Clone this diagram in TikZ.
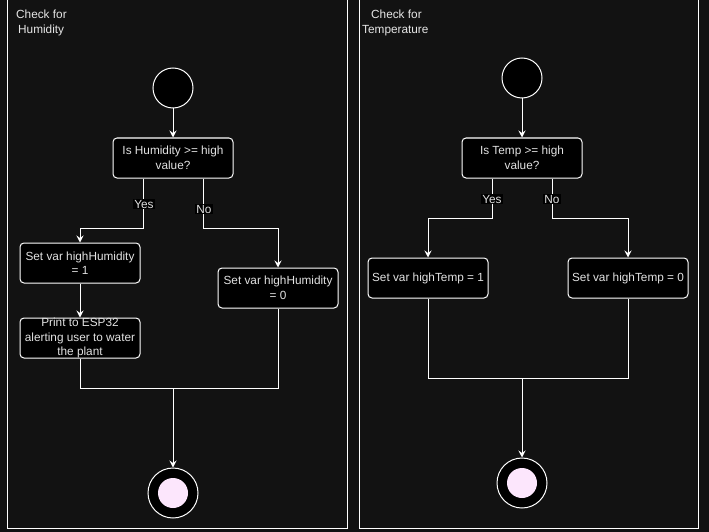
\documentclass[tikz,border=0pt]{standalone}
\usepackage{fontspec}
\setmainfont{Liberation Sans}
\usepackage{tikz}
\usetikzlibrary{arrows.meta, positioning}

\definecolor{bgdark}{RGB}{18,18,18}
\definecolor{txtgray}{RGB}{226,226,226}
\definecolor{endpink}{RGB}{252,230,252}

\begin{document}
\begin{tikzpicture}[
    x=1pt, y=-1pt,
    every node/.style={font=\fontsize{11.8}{14.5}\selectfont, text=txtgray},
    panel/.style={draw=white, line width=1pt},
    startdot/.style={circle, draw=white, fill=black, line width=1pt, minimum size=40pt, inner sep=0pt},
    enddot/.style={circle, draw=white, fill=black, line width=1pt, minimum size=50pt, inner sep=0pt},
    enddisc/.style={circle, fill=endpink, minimum size=30pt, inner sep=0pt},
    box/.style={draw=white, fill=black, rounded corners=4pt, line width=1pt,
        minimum width=120pt, minimum height=40pt, align=center, inner sep=0pt},
    lbl/.style={fill=black, inner sep=1pt},
    title/.style={align=left, inner sep=0pt, text=txtgray!85},
    arr/.style={draw=white, line width=1pt, -{Stealth[length=7pt, width=7pt, inset=2.5pt]}},
    ln/.style={draw=white, line width=1pt}
]

% Background
\fill[bgdark] (0,0) rectangle (709,532);
\useasboundingbox (0,0) rectangle (709,532);

% Panels
\draw[panel] (7,-2) -- (7,528) -- (347,528) -- (347,-2);
\draw[panel] (359,-2) -- (359,528) -- (698,528) -- (698,-2);

% Humidity column
\node[title, anchor=north west] (htitle) at (16,10) {Check for\\\hspace{2pt}Humidity};
\node[startdot] (hstart) at (173,88) {};
\node[box] (hdec) at (173,158) {Is Humidity >= high\\value?};
\node[box] (hset1) at (80,263) {Set var highHumidity\\= 1};
\node[box] (hset0) at (278,288) {Set var highHumidity\\= 0};
\node[box] (hprint) at (80,338) {Print to ESP32\\alerting user to water\\the plant};
\node[enddot] (hend) at (173,493) {};
\node[enddisc] (hendin) at (hend) {};
\coordinate (hjoin) at (173,388);

% Temperature column
\node[title, anchor=north west] (ttitle) at (362,10) {\hspace{9pt}Check for\\Temperature};
\node[startdot] (tstart) at (522,78) {};
\node[box] (tdec) at (522,158) {Is Temp >= high\\value?};
\node[box] (tset1) at (428,278) {Set var highTemp = 1};
\node[box] (tset0) at (628,278) {Set var highTemp = 0};
\node[enddot] (tend) at (522,483) {};
\node[enddisc] (tendin) at (tend) {};
\coordinate (tjoin) at (522,378);

% Connections (humidity)
\draw[arr] (hstart) -- (hdec);
\draw[arr] ([xshift=-30pt]hdec.south) -- ++(0,50) -| (hset1.north);
\draw[arr] ([xshift=30pt]hdec.south) -- ++(0,50) -| (hset0.north);
\draw[arr] (hset1) -- (hprint);
\draw[ln] (hprint.south) |- (hjoin);
\draw[ln] (hset0.south) |- (hjoin);
\draw[arr] (hjoin) -- (hend);

% Connections (temperature)
\draw[arr] (tstart) -- (tdec);
\draw[arr] ([xshift=-30pt]tdec.south) -- ++(0,40) -| (tset1.north);
\draw[arr] ([xshift=30pt]tdec.south) -- ++(0,40) -| (tset0.north);
\draw[ln] (tset1.south) |- (tjoin);
\draw[ln] (tset0.south) |- (tjoin);
\draw[arr] (tjoin) -- (tend);

% Labels
\node[lbl] (hyes) at (144,204) {Yes};
\node[lbl] (hno) at (204,209) {No};
\node[lbl] (tyes) at (492,199) {Yes};
\node[lbl] (tno) at (552,199) {No};

\end{tikzpicture}
\end{document}
